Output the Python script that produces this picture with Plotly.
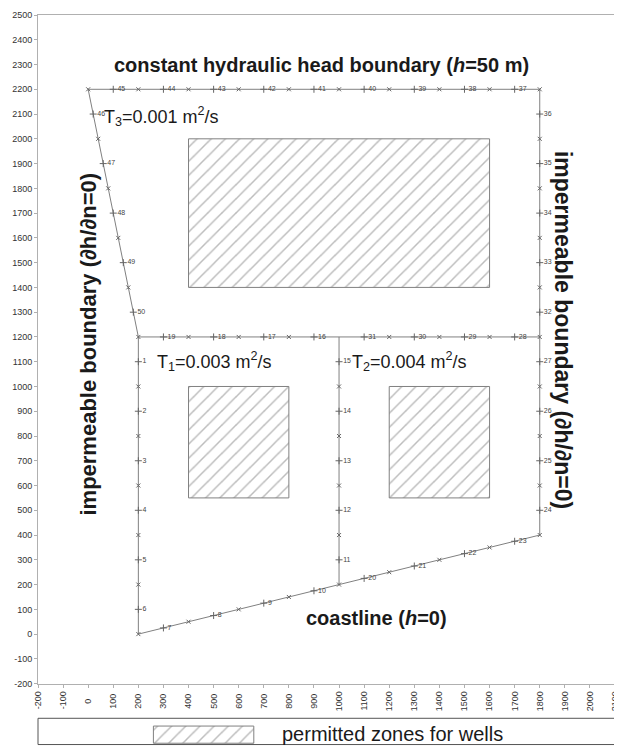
import plotly.graph_objects as go

# ---------------- data ----------------
# domain boundary polygon (outer) and inner dividing lines
outer_x = [200, 1800, 1800, 0, 200, 200]
outer_y = [0, 400, 2200, 2200, 1200, 0]
mid_x = [200, 1800]
mid_y = [1200, 1200]
div_x = [1000, 1000]
div_y = [1200, 200]

# labelled (mid-side) nodes
node_id = list(range(1, 51))
node_x = [200, 200, 200, 200, 200, 200,
          300, 500, 700, 900,
          1000, 1000, 1000, 1000, 1000,
          900, 700, 500, 300,
          1100, 1300, 1500, 1700,
          1800, 1800, 1800, 1800,
          1700, 1500, 1300, 1100,
          1800, 1800, 1800, 1800, 1800,
          1700, 1500, 1300, 1100, 900, 700, 500, 300, 100,
          20, 60, 100, 140, 180]
node_y = [1100, 900, 700, 500, 300, 100,
          25, 75, 125, 175,
          300, 500, 700, 900, 1100,
          1200, 1200, 1200, 1200,
          225, 275, 325, 375,
          500, 700, 900, 1100,
          1200, 1200, 1200, 1200,
          1300, 1500, 1700, 1900, 2100,
          2200, 2200, 2200, 2200, 2200, 2200, 2200, 2200, 2200,
          2100, 1900, 1700, 1500, 1300]

# corner nodes (unlabelled)
corner_x = ([200] * 7
            + [400, 600, 800, 1000, 1200, 1400, 1600, 1800]
            + [1000] * 4
            + [400, 600, 800, 1200, 1400, 1600]
            + [1800] * 9
            + [0, 200, 400, 600, 800, 1000, 1200, 1400, 1600]
            + [40, 80, 120, 160])
corner_y = ([0, 200, 400, 600, 800, 1000, 1200]
            + [50, 100, 150, 200, 250, 300, 350, 400]
            + [400, 600, 800, 1000]
            + [1200] * 6
            + [600, 800, 1000, 1200, 1400, 1600, 1800, 2000, 2200]
            + [2200] * 9
            + [2000, 1800, 1600, 1400])

# permitted zones for wells (rectangles)
zone_x0 = [400, 400, 1200]
zone_x1 = [1600, 800, 1600]
zone_y0 = [1400, 550, 550]
zone_y1 = [2000, 1000, 1000]

x_ticks = list(range(-200, 2101, 100))
y_ticks = list(range(-200, 2501, 100))

# ---------------- figure ----------------
FONT = "Liberation Sans, Arial, sans-serif"
LINE = "#808080"
HATCH = dict(shape="/", size=10, solidity=0.15, fgcolor="#7a7a7a", bgcolor="white")

fig = go.Figure()

for x0, x1, y0, y1 in zip(zone_x0, zone_x1, zone_y0, zone_y1):
    fig.add_trace(go.Scatter(
        x=[x0, x1, x1, x0, x0], y=[y0, y0, y1, y1, y0],
        mode="lines", fill="toself", fillcolor="white", fillpattern=HATCH,
        line=dict(color=LINE, width=1), hoverinfo="skip", showlegend=False))

for xs, ys in [(outer_x, outer_y), (mid_x, mid_y), (div_x, div_y)]:
    fig.add_trace(go.Scatter(x=xs, y=ys, mode="lines",
                             line=dict(color=LINE, width=1),
                             hoverinfo="skip", showlegend=False))

fig.add_trace(go.Scatter(
    x=corner_x, y=corner_y, mode="markers",
    marker=dict(symbol="x-thin", size=4, line=dict(color="#666", width=1)),
    showlegend=False))

fig.add_trace(go.Scatter(
    x=node_x, y=node_y, mode="markers+text",
    text=[str(i) for i in node_id], textposition="middle right",
    textfont=dict(family=FONT, size=7, color="#444"),
    marker=dict(symbol="cross-thin", size=5, line=dict(color="#666", width=1)),
    showlegend=False))

# legend swatch on an auxiliary axis pair below the plot
fig.add_trace(go.Scatter(
    x=[20, 37.4, 37.4, 20, 20], y=[0.1, 0.1, 0.72, 0.72, 0.1],
    xaxis="x2", yaxis="y2",
    mode="lines", fill="toself", fillcolor="white", fillpattern=HATCH,
    line=dict(color=LINE, width=1), hoverinfo="skip", showlegend=False))

bold = dict(family=FONT, size=20, color="#1a1a1a")
side_l = dict(family=FONT, size=22, color="#1a1a1a")
side_r = dict(family=FONT, size=23, color="#1a1a1a")
reg = dict(family=FONT, size=18, color="#1a1a1a")
ann = [
    dict(x=930, y=2300, text="<b>constant hydraulic head boundary (<i>h</i>=50 m)</b>", font=bold),
    dict(x=1148, y=64, text="<b>coastline (<i>h</i>=0)</b>", font=bold),
    dict(x=0, y=1170, text="<b>impermeable boundary (∂h/∂n=0)</b>", font=side_l, textangle=-90),
    dict(x=1895, y=1230, text="<b>impermeable boundary (∂h/∂n=0)</b>", font=side_r, textangle=90),
    dict(x=55, y=2090, text="T<sub>3</sub>=0.001 m<sup>2</sup>/s", font=reg, xanchor="left"),
    dict(x=265, y=1100, text="T<sub>1</sub>=0.003 m<sup>2</sup>/s", font=reg, xanchor="left"),
    dict(x=1045, y=1100, text="T<sub>2</sub>=0.004 m<sup>2</sup>/s", font=reg, xanchor="left"),
]
for a in ann:
    a.setdefault("xanchor", "center")
    fig.add_annotation(xref="x", yref="y", showarrow=False, **a)

fig.add_annotation(xref="x2", yref="y2", x=42, y=0.42, xanchor="left", yanchor="middle",
                   text="permitted zones for wells", showarrow=False,
                   font=dict(family=FONT, size=20, color="#1a1a1a"))

LEG_TOP = 0.0379
fig.add_shape(type="rect", xref="paper", yref="paper", x0=0, x1=1, y0=0.002, y1=LEG_TOP,
              line=dict(color="#555", width=1), fillcolor="rgba(0,0,0,0)")


def centred(v):
    # rotated labels are centred under their tick: pad shorter ones with no-break spaces
    s = str(v)
    pad = {1: 3, 2: 2, 3: 1}.get(len(s), 0)
    return s + "\u00a0" * pad


tickfont = dict(family=FONT, size=9, color="#333")
# page body has an 8px default margin, so the figure is sized/offset for that
fig.update_layout(
    width=614, height=745,
    margin=dict(l=30, r=7, t=4, b=2),
    paper_bgcolor="white", plot_bgcolor="white",
    showlegend=False,
    xaxis=dict(range=[-200, 2100], tickvals=x_ticks, ticktext=[centred(v) for v in x_ticks],
               tickangle=-90, tickfont=tickfont, showgrid=False, zeroline=False,
               showline=True, linecolor="#b0b0b0", linewidth=1, mirror=True,
               ticks="outside", ticklen=3, tickcolor="#b0b0b0", domain=[0, 1],
               ticklabeloverflow="allow"),
    yaxis=dict(range=[-200, 2500], tickvals=y_ticks, ticktext=[str(v) for v in y_ticks],
               tickfont=tickfont, showgrid=False, zeroline=False,
               showline=True, linecolor="#b0b0b0", linewidth=1, mirror=True,
               ticks="outside", ticklen=3, tickcolor="#b0b0b0", domain=[0.0853, 1],
               ticklabeloverflow="allow"),
    xaxis2=dict(domain=[0, 1], range=[0, 100], visible=False, anchor="y2"),
    yaxis2=dict(domain=[0, LEG_TOP], range=[0, 1], visible=False, anchor="x2"),
)

fig.write_html("out.html")
